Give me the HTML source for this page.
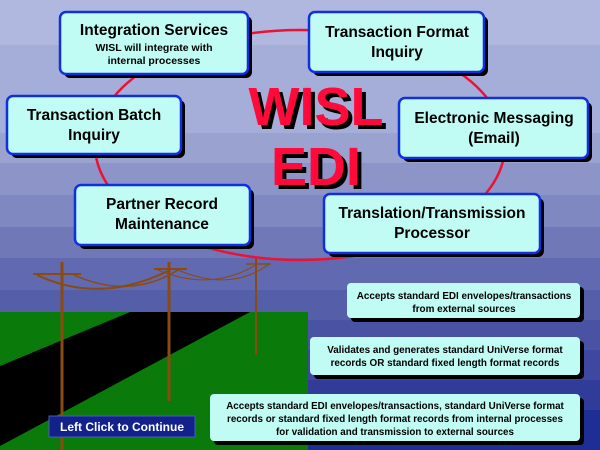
<!DOCTYPE html>
<html><head><meta charset="utf-8"><style>
html,body{margin:0;padding:0;width:600px;height:450px;overflow:hidden}
text{font-family:"Liberation Sans",Arial,sans-serif;font-weight:bold}
</style></head><body>
<svg width="600" height="450" xmlns="http://www.w3.org/2000/svg">
<rect x="0" y="0" width="600" height="45" fill="#b0b8e0"/>
<rect x="0" y="45" width="600" height="88" fill="#a5add9"/>
<rect x="0" y="133" width="600" height="31" fill="#9aa2d0"/>
<rect x="0" y="163" width="600" height="32" fill="#8d95c8"/>
<rect x="0" y="195" width="600" height="32" fill="#7f88c0"/>
<rect x="0" y="227" width="600" height="31" fill="#7078b8"/>
<rect x="0" y="258" width="600" height="32" fill="#6169b0"/>
<rect x="0" y="290" width="600" height="30" fill="#555ea9"/>
<rect x="0" y="320" width="600" height="30" fill="#4a52a4"/>
<rect x="0" y="350" width="600" height="30" fill="#3e48a0"/>
<rect x="0" y="380" width="600" height="30" fill="#303c98"/>
<rect x="0" y="410" width="600" height="40" fill="#1e2e94"/>
<rect x="0" y="312" width="308" height="138" fill="#0a7a0a"/>
<polygon points="130,312 250,312 0,446 0,366" fill="#000"/>
<g stroke="#8a4a10" fill="none">
<line x1="62" y1="262" x2="62" y2="450" stroke-width="3"/>
<line x1="33" y1="274" x2="81" y2="274" stroke-width="2"/>
<line x1="169" y1="262" x2="169" y2="401" stroke-width="3"/>
<line x1="154" y1="269" x2="187" y2="269" stroke-width="2"/>
<line x1="256" y1="258" x2="256" y2="355" stroke-width="2"/>
<line x1="246" y1="264" x2="271" y2="264" stroke-width="1.5"/>
<path d="M37,275 Q100,305 170,270" stroke-width="2"/>
<path d="M74,275 Q130,300 178,270" stroke-width="1.5"/>
<path d="M158,270 Q210,292 256,265" stroke-width="1"/>
<path d="M178,270 Q230,292 268,265" stroke-width="1"/>
</g>
<ellipse cx="300" cy="145" rx="205" ry="115" fill="none" stroke="#ee1133" stroke-width="2.5"/>
<g fill="#000">
<text x="320" y="129" font-size="54" text-anchor="middle">WISL</text>
<text x="320" y="189" font-size="54" text-anchor="middle">EDI</text>
</g>
<g fill="#ff0a3a">
<text x="316" y="125" font-size="54" text-anchor="middle">WISL</text>
<text x="316" y="185" font-size="54" text-anchor="middle">EDI</text>
</g>
<g>
<rect x="64" y="16" width="188" height="62" rx="6" fill="#000"/>
<rect x="60" y="12" width="188" height="62" rx="6" fill="#c0fcf4" stroke="#1030e0" stroke-width="2.5"/>
<rect x="313" y="16" width="175" height="60" rx="6" fill="#000"/>
<rect x="309" y="12" width="175" height="60" rx="6" fill="#c0fcf4" stroke="#1030e0" stroke-width="2.5"/>
<rect x="11" y="100" width="174" height="58" rx="6" fill="#000"/>
<rect x="7" y="96" width="174" height="58" rx="6" fill="#c0fcf4" stroke="#1030e0" stroke-width="2.5"/>
<rect x="403" y="102" width="189" height="60" rx="6" fill="#000"/>
<rect x="399" y="98" width="189" height="60" rx="6" fill="#c0fcf4" stroke="#1030e0" stroke-width="2.5"/>
<rect x="79" y="189" width="175" height="60" rx="6" fill="#000"/>
<rect x="75" y="185" width="175" height="60" rx="6" fill="#c0fcf4" stroke="#1030e0" stroke-width="2.5"/>
<rect x="328" y="198" width="216" height="59" rx="6" fill="#000"/>
<rect x="324" y="194" width="216" height="59" rx="6" fill="#c0fcf4" stroke="#1030e0" stroke-width="2.5"/>
</g>
<g fill="#000" text-anchor="middle">
<text x="154" y="35" font-size="15.5">Integration Services</text>
<text x="154" y="51" font-size="10.5">WISL will integrate with</text>
<text x="154" y="64" font-size="10.5">internal processes</text>
<text x="397" y="37" font-size="15.5">Transaction Format</text>
<text x="397" y="57" font-size="15.5">Inquiry</text>
<text x="94" y="120" font-size="15.5">Transaction Batch</text>
<text x="94" y="140" font-size="15.5">Inquiry</text>
<text x="494" y="123" font-size="15.5">Electronic Messaging</text>
<text x="494" y="143" font-size="15.5">(Email)</text>
<text x="162" y="209" font-size="15.5">Partner Record</text>
<text x="162" y="229" font-size="15.5">Maintenance</text>
<text x="432" y="218" font-size="15.5">Translation/Transmission</text>
<text x="432" y="238" font-size="15.5">Processor</text>
</g>
<g>
<rect x="351" y="287" width="233" height="35" rx="4" fill="#000"/>
<rect x="347" y="283" width="233" height="35" rx="4" fill="#c0fcf4"/>
<rect x="314" y="341" width="270" height="38" rx="4" fill="#000"/>
<rect x="310" y="337" width="270" height="38" rx="4" fill="#c0fcf4"/>
<rect x="214" y="398" width="370" height="47" rx="4" fill="#000"/>
<rect x="210" y="394" width="370" height="47" rx="4" fill="#c0fcf4"/>
</g>
<g fill="#000" text-anchor="middle" font-size="9.9">
<text x="464" y="299">Accepts standard EDI envelopes/transactions</text>
<text x="464" y="312">from external sources</text>
<text x="445" y="353">Validates and generates standard UniVerse format</text>
<text x="445" y="366">records OR standard fixed length format records</text>
<text x="395" y="431" transform="translate(0,0)"> </text>
<text x="395" y="430" font-size="9.6"> </text>
<text x="395" y="429" font-size="0"> </text>
</g>
<g fill="#000" text-anchor="middle" font-size="9.8">
<text x="395" y="409">Accepts standard EDI envelopes/transactions, standard UniVerse format</text>
<text x="395" y="422">records or standard fixed length format records  from  internal processes</text>
<text x="395" y="435">for validation and transmission to external sources</text>
</g>
<rect x="49" y="416" width="146" height="21" fill="#12228a" stroke="#4a5ab8" stroke-width="1"/>
<text x="122" y="431" font-size="12" fill="#fff" text-anchor="middle">Left Click to Continue</text>
</svg>
</body></html>
